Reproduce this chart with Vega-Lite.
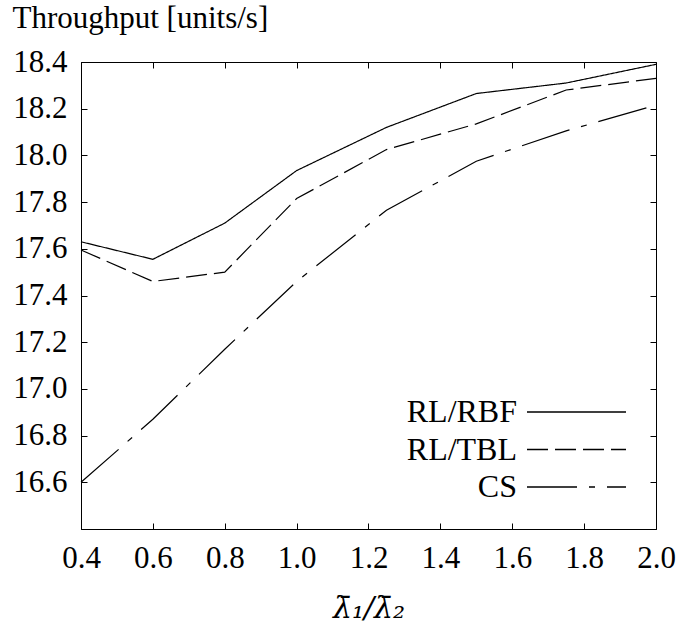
{
  "$schema": "https://vega.github.io/schema/vega-lite/v6.json",
  "autosize": "none",
  "width": 575,
  "height": 467,
  "padding": {"left": 81, "top": 62, "right": 30, "bottom": 106},
  "background": "white",
  "config": {
    "view": {"stroke": "black", "strokeWidth": 1},
    "axis": {
      "labelFont": "Liberation Serif",
      "labelFontSize": 31,
      "labelColor": "black",
      "labelFlush": false,
      "titleFont": "Liberation Serif",
      "titleColor": "black",
      "titleFontWeight": "normal",
      "tickColor": "black",
      "domainColor": "black",
      "grid": false,
      "tickSize": -6,
      "tickWidth": 1
    },
    "legend": {
      "labelFont": "Liberation Serif",
      "labelFontSize": 32,
      "labelColor": "black"
    }
  },
  "data": {
    "values": [
      {"ratio": 0.4, "throughput": 17.63, "method": "RL/RBF"},
      {"ratio": 0.6, "throughput": 17.555, "method": "RL/RBF"},
      {"ratio": 0.8, "throughput": 17.71, "method": "RL/RBF"},
      {"ratio": 1.0, "throughput": 17.935, "method": "RL/RBF"},
      {"ratio": 1.25, "throughput": 18.12, "method": "RL/RBF"},
      {"ratio": 1.5, "throughput": 18.265, "method": "RL/RBF"},
      {"ratio": 1.75, "throughput": 18.31, "method": "RL/RBF"},
      {"ratio": 2.0, "throughput": 18.39, "method": "RL/RBF"},
      {"ratio": 0.4, "throughput": 17.595, "method": "RL/TBL"},
      {"ratio": 0.6, "throughput": 17.46, "method": "RL/TBL"},
      {"ratio": 0.8, "throughput": 17.5, "method": "RL/TBL"},
      {"ratio": 1.0, "throughput": 17.815, "method": "RL/TBL"},
      {"ratio": 1.25, "throughput": 18.025, "method": "RL/TBL"},
      {"ratio": 1.5, "throughput": 18.135, "method": "RL/TBL"},
      {"ratio": 1.75, "throughput": 18.28, "method": "RL/TBL"},
      {"ratio": 2.0, "throughput": 18.33, "method": "RL/TBL"},
      {"ratio": 0.4, "throughput": 16.6, "method": "CS"},
      {"ratio": 0.6, "throughput": 16.87, "method": "CS"},
      {"ratio": 0.8, "throughput": 17.17, "method": "CS"},
      {"ratio": 1.0, "throughput": 17.46, "method": "CS"},
      {"ratio": 1.25, "throughput": 17.765, "method": "CS"},
      {"ratio": 1.5, "throughput": 17.975, "method": "CS"},
      {"ratio": 1.75, "throughput": 18.105, "method": "CS"},
      {"ratio": 2.0, "throughput": 18.215, "method": "CS"}
    ]
  },
  "layer": [
    {
      "mark": {"type": "line", "color": "black", "strokeWidth": 1.2},
      "encoding": {
        "x": {
          "field": "ratio", "type": "quantitative",
          "scale": {"domain": [0.4, 2.0], "nice": false, "zero": false},
          "axis": {
            "orient": "bottom",
            "values": [0.4, 0.6, 0.8, 1.0, 1.2, 1.4, 1.6, 1.8, 2.0],
            "format": ".1f",
            "labelPadding": 20,
            "title": "λ̄₁/λ̄₂",
            "titleFont": "DejaVu Serif",
            "titleFontSize": 30,
            "titleFontStyle": "italic",
            "titleBaseline": "alphabetic",
            "titleY": 88
          }
        },
        "y": {
          "field": "throughput", "type": "quantitative",
          "scale": {"domain": [16.4, 18.4], "nice": false, "zero": false},
          "axis": {
            "orient": "left",
            "values": [16.6, 16.8, 17.0, 17.2, 17.4, 17.6, 17.8, 18.0, 18.2, 18.4],
            "format": ".1f",
            "labelPadding": 20,
            "title": "Throughput [units/s]",
            "titleFontSize": 31,
            "titleAngle": 0,
            "titleAlign": "left",
            "titleBaseline": "top",
            "titleX": -69,
            "titleY": -59
          }
        },
        "strokeDash": {
          "field": "method", "type": "nominal",
          "scale": {
            "domain": ["RL/RBF", "RL/TBL", "CS"],
            "range": [[1, 0], [21, 7], [50, 12, 6, 12]]
          },
          "legend": {
            "title": null,
            "orient": "none",
            "direction": "vertical",
            "legendX": 478,
            "legendY": 332.5,
            "padding": 0,
            "symbolType": "M-3,0H3",
            "symbolSize": 1089,
            "symbolStrokeColor": "black",
            "symbolStrokeWidth": 1.3,
            "symbolOpacity": 1,
            "rowPadding": 3.5,
            "labelAlign": "right",
            "labelOffset": -77
          }
        }
      }
    },
    {
      "mark": {"type": "line", "color": "black", "strokeWidth": 1.2, "opacity": 0},
      "encoding": {
        "x": {
          "field": "ratio", "type": "quantitative",
          "axis": {
            "orient": "top",
            "values": [0.4, 0.6, 0.8, 1.0, 1.2, 1.4, 1.6, 1.8, 2.0],
            "labels": false,
            "title": null,
            "domain": false
          }
        },
        "y": {
          "field": "throughput", "type": "quantitative",
          "axis": {
            "orient": "right",
            "values": [16.6, 16.8, 17.0, 17.2, 17.4, 17.6, 17.8, 18.0, 18.2, 18.4],
            "labels": false,
            "title": null,
            "domain": false
          }
        },
        "detail": {"field": "method", "type": "nominal"}
      }
    }
  ],
  "resolve": {"axis": {"x": "independent", "y": "independent"}}
}
